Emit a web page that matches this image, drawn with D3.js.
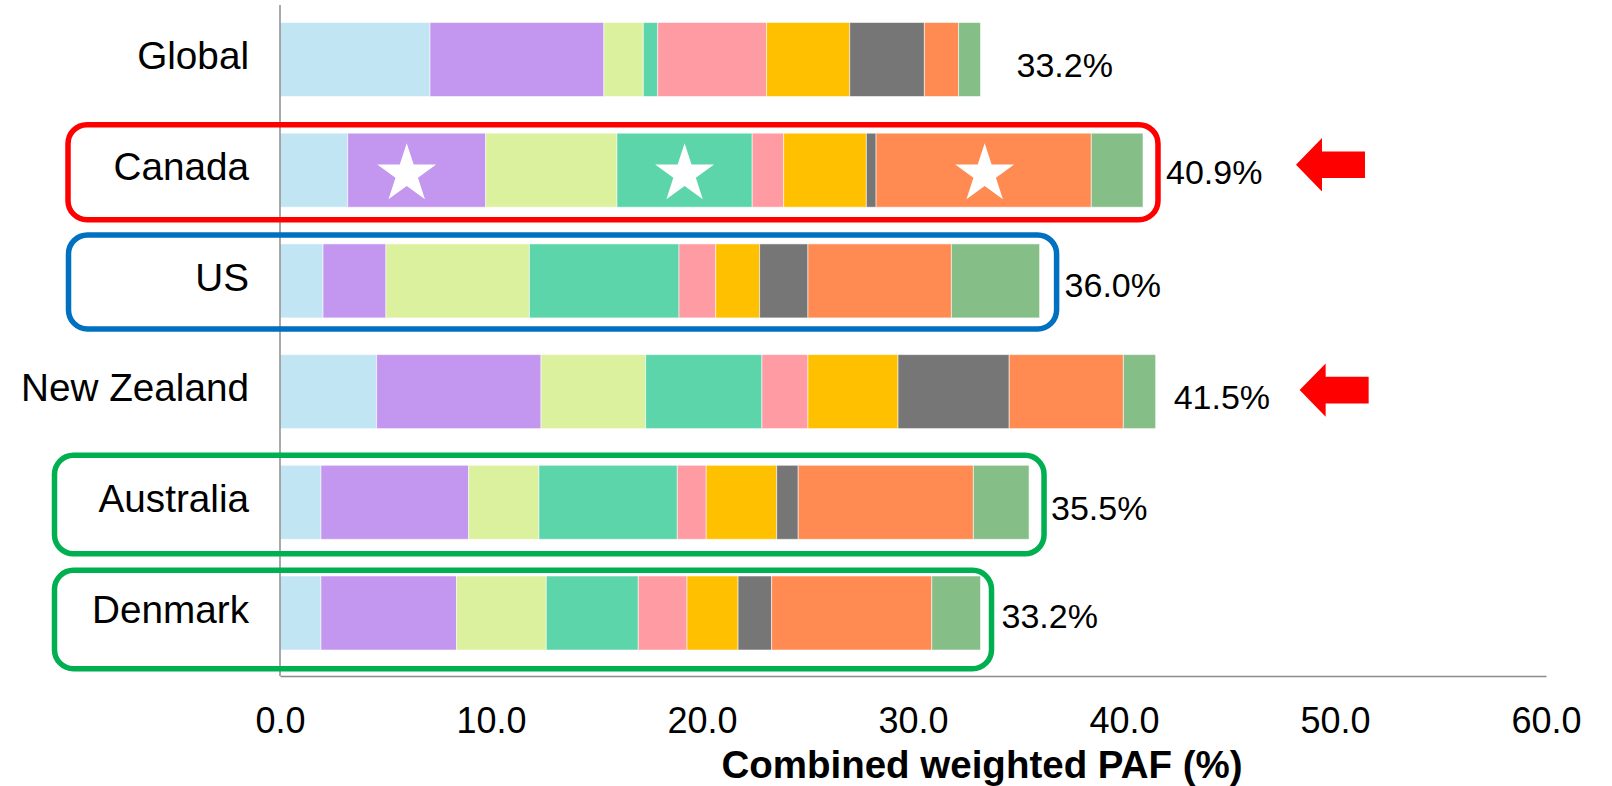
<!DOCTYPE html>
<html>
<head>
<meta charset="utf-8">
<script src="https://cdn.jsdelivr.net/npm/d3@7"></script>
<style>
  html, body { margin: 0; padding: 0; background: #fff; }
  svg { display: block; font-family: "Liberation Sans", Arial, sans-serif; }
</style>
</head>
<body>
<svg id="chart" width="1612" height="786"></svg>
<script>
// Regions shown on the y axis, top to bottom
const regions = ["Global", "Canada", "US", "New Zealand", "Australia", "Denmark"];

// Nine stacked components per region (weighted PAF, %), left to right
const factorKeys = ["f1", "f2", "f3", "f4", "f5", "f6", "f7", "f8", "f9"];
const globalValues     = [7.11, 8.24, 1.87, 0.68, 5.16, 3.94, 3.54, 1.62, 1.04];
const canadaValues     = [3.21, 6.54, 6.22, 6.41, 1.49, 3.92, 0.46, 10.20, 2.45];
const usValues         = [2.04, 2.98, 6.80, 7.09, 1.74, 2.08, 2.29, 6.80, 4.18];
const newZealandValues = [4.58, 7.79, 4.96, 5.51, 2.18, 4.27, 5.27, 5.41, 1.53];
const australiaValues  = [1.94, 7.00, 3.33, 6.56, 1.37, 3.34, 1.02, 8.30, 2.64];
const denmarkValues    = [1.94, 6.43, 4.25, 4.36, 2.31, 2.42, 1.59, 7.59, 2.31];

// Combined totals printed beside each bar
const totalLabels = ["33.2%", "40.9%", "36.0%", "41.5%", "35.5%", "33.2%"];

// X axis ticks
const xTicks = [0, 10, 20, 30, 40, 50, 60];
const xTitle = "Combined weighted PAF (%)";

// Annotations
const highlightRows = ["Canada", "US", "Australia", "Denmark"];
const arrowRows = ["Canada", "New Zealand"];
const starRow = "Canada";
const starFactors = ["f2", "f4", "f8"];

// ---- styling / layout ----
const factorColors = ["#C2E5F4", "#C396EF", "#DCF19E", "#5CD5AA", "#FF9BA2",
                      "#FFC000", "#767676", "#FF8A52", "#86BE88"];
const axisColor = "#8c8c8c";
const plotLeft = 280, plotRight = 1546, plotTop = 5, plotBottom = 676;

const labelLayout = {        // gap after bar end, baseline offset from bar centre
  "Global":      { gap: 36, dy: 17.5 },
  "Canada":      { gap: 23, dy: 13.5 },
  "US":          { gap: 25, dy: 16 },
  "New Zealand": { gap: 18, dy: 17.5 },
  "Australia":   { gap: 22, dy: 18 },
  "Denmark":     { gap: 21, dy: 15 }
};
const boxLayout = {
  "Canada":    { color: "#FF0000", left: 68,   padR: 15, padT: 8.5,  padB: 12.5 },
  "US":        { color: "#0070C0", left: 68.5, padR: 17, padT: 9,    padB: 11 },
  "Australia": { color: "#00B050", left: 54.5, padR: 15, padT: 10,   padB: 14.5 },
  "Denmark":   { color: "#00B050", left: 54.5, padR: 11, padT: 5.7,  padB: 18.7 }
};
const arrowLayout = {
  "Canada":      { gap: 153, dy: -5.5 },
  "New Zealand": { gap: 144, dy: -1.5 }
};
const starNudge = { f2: -10, f4: 0, f8: 1 };

// ---- build table ----
const valueRows = [globalValues, canadaValues, usValues, newZealandValues, australiaValues, denmarkValues];
const table = regions.map((r, i) => {
  const row = { region: r };
  factorKeys.forEach((k, j) => row[k] = valueRows[i][j]);
  row.total = parseFloat(totalLabels[i]);
  row.label = totalLabels[i];
  return row;
});

const series = d3.stack().keys(factorKeys)(table);

const x = d3.scaleLinear().domain([0, 60]).range([plotLeft, plotRight]);
const y = d3.scaleBand().domain(regions).range([4.15, 668.35])
  .paddingInner(0.3315).paddingOuter(0.16575);
const color = d3.scaleOrdinal().domain(factorKeys).range(factorColors);

const svg = d3.select("#chart");

// stacked bars
const seriesG = svg.append("g").selectAll("g").data(series).join("g")
  .attr("fill", d => color(d.key));
seriesG.selectAll("rect").data(d => d.map(v => ({ v, key: d.key }))).join("rect")
  .attr("x", d => x(d.v[0]))
  .attr("y", d => y(d.v.data.region))
  .attr("width", d => x(d.v[1]) - x(d.v[0]))
  .attr("height", y.bandwidth())
  .attr("stroke", "rgba(255,255,255,0.55)")
  .attr("stroke-width", 1);

// stars on selected Canada components
const starPath = (R) => {
  const r = R * 0.382, pts = [];
  for (let i = 0; i < 10; i++) {
    const a = -Math.PI / 2 + i * Math.PI / 5;
    const rad = i % 2 === 0 ? R : r;
    pts.push([rad * Math.cos(a), rad * Math.sin(a)]);
  }
  return "M" + pts.map(p => p.join(",")).join("L") + "Z";
};
const canadaIndex = regions.indexOf(starRow);
svg.append("g").selectAll("path").data(starFactors).join("path")
  .attr("d", starPath(31))
  .attr("fill", "#fff")
  .attr("transform", k => {
    const seg = series.find(s => s.key === k)[canadaIndex];
    const cx = (x(seg[0]) + x(seg[1])) / 2 + starNudge[k];
    const cy = y(starRow) + y.bandwidth() / 2 + 4;
    return `translate(${cx},${cy})`;
  });

// axes
const xAxis = d3.axisBottom(x).tickValues(xTicks).tickFormat(d3.format(".1f"))
  .tickSize(0).tickSizeOuter(0).tickPadding(31);
const gx = svg.append("g").attr("transform", `translate(0,${plotBottom})`).call(xAxis);
gx.select(".domain").attr("stroke", axisColor).attr("stroke-width", 1.5);
gx.selectAll("text").attr("font-size", 36).attr("fill", "#000")
  .attr("font-family", "Liberation Sans, Arial, sans-serif");

svg.append("line")
  .attr("x1", x(0)).attr("x2", x(0)).attr("y1", plotTop).attr("y2", plotBottom)
  .attr("stroke", axisColor).attr("stroke-width", 1.5);

const yAxis = d3.axisLeft(y).tickSize(0).tickPadding(31);
const gy = svg.append("g").attr("transform", `translate(${plotLeft},0)`).call(yAxis);
gy.select(".domain").remove();
gy.selectAll("text").attr("font-size", 38.7).attr("fill", "#000").attr("dy", "0.25em")
  .attr("font-family", "Liberation Sans, Arial, sans-serif");

svg.append("text")
  .attr("x", 982).attr("y", 778)
  .attr("text-anchor", "middle")
  .attr("font-size", 38.5).attr("font-weight", "bold").attr("fill", "#000")
  .text(xTitle);

// total labels
svg.append("g").selectAll("text").data(table).join("text")
  .attr("x", d => x(d.total) + labelLayout[d.region].gap)
  .attr("y", d => y(d.region) + y.bandwidth() / 2 + labelLayout[d.region].dy)
  .attr("font-size", 34).attr("fill", "#000")
  .text(d => d.label);

// highlight boxes
svg.append("g").selectAll("rect").data(highlightRows).join("rect")
  .attr("x", r => boxLayout[r].left)
  .attr("y", r => y(r) - boxLayout[r].padT)
  .attr("width", r => {
    const d = table[regions.indexOf(r)];
    return x(d.total) + boxLayout[r].padR - boxLayout[r].left;
  })
  .attr("height", r => y.bandwidth() + boxLayout[r].padT + boxLayout[r].padB)
  .attr("rx", 19).attr("ry", 19)
  .attr("fill", "none")
  .attr("stroke", r => boxLayout[r].color)
  .attr("stroke-width", 5.5);

// arrows pointing at selected totals
const arrowPath = "M0,0L26,-26.7L26,-13.3L69,-13.3L69,13.3L26,13.3L26,26.7Z";
svg.append("g").selectAll("path").data(arrowRows).join("path")
  .attr("d", arrowPath)
  .attr("fill", "#FF0000")
  .attr("transform", r => {
    const d = table[regions.indexOf(r)];
    const tx = x(d.total) + arrowLayout[r].gap;
    const ty = y(r) + y.bandwidth() / 2 + arrowLayout[r].dy;
    return `translate(${tx},${ty})`;
  });
</script>
</body>
</html>
